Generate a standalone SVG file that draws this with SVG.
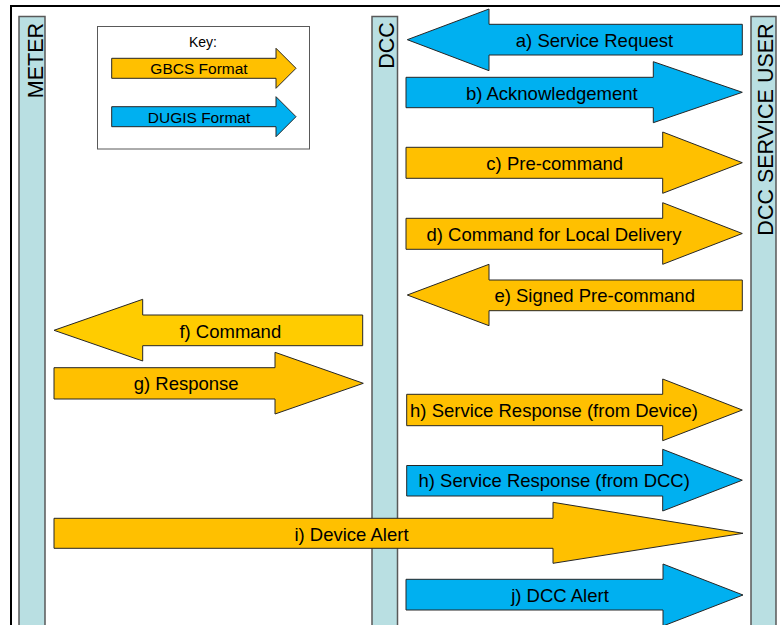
<svg xmlns="http://www.w3.org/2000/svg" width="780" height="625" viewBox="0 0 780 625">
<style>
.bar{fill:#B9DFE2;stroke:#595959;stroke-width:1.5}
.lane{font-family:"Liberation Sans",Arial,sans-serif;font-size:21.5px;fill:#000;text-anchor:middle}
.gb{fill:#FFC000;stroke:#262626;stroke-width:1}
.gb2{fill:#FFCC00;stroke:#262626;stroke-width:1}
.du{fill:#00B0F0;stroke:#262626;stroke-width:1}
.lbl{font-family:"Liberation Sans",Arial,sans-serif;font-size:18.5px;fill:#000;text-anchor:middle}
.key{font-family:"Liberation Sans",Arial,sans-serif;font-size:15.5px;fill:#000;text-anchor:middle}
</style>
<rect width="780" height="625" fill="#fff"/>
<path d="M11,640 V6 H790" fill="none" stroke="#000" stroke-width="2"/>

<g id="meter">
<rect class="bar" x="19" y="16.5" width="26" height="620"/>
<text class="lane" transform="translate(43,60.5) rotate(-90)">METER</text>
</g>
<g id="dcc">
<rect class="bar" x="372" y="16.5" width="25.5" height="620"/>
<text class="lane" transform="translate(393.5,45.5) rotate(-90)">DCC</text>
</g>
<g id="service-user">
<rect class="bar" x="751" y="16.5" width="25" height="620"/>
<text class="lane" transform="translate(772.5,129.5) rotate(-90)">DCC SERVICE USER</text>
</g>

<g id="key">
<rect x="97.5" y="26.5" width="212" height="122.5" fill="#fff" stroke="#595959" stroke-width="1"/>
<text class="key" x="203" y="47" style="font-size:14px">Key:</text>
<polygon class="gb" points="111.7,58.3 276,58.3 276,48.3 296,68.3 276,88.3 276,78.3 111.7,78.3"/>
<text class="key" x="199" y="74.3">GBCS Format</text>
<polygon class="du" points="111.7,106.7 276,106.7 276,96.7 296,116.7 276,136.7 276,126.7 111.7,126.7"/>
<text class="key" x="199" y="122.6">DUGIS Format</text>
</g>

<g id="connectors">
<g id="a">
<polygon class="du" points="742.3,24.3 489,24.3 489,9 407.3,39.7 489,70.7 489,55 742.3,55"/>
<text class="lbl" x="594.5" y="46.5">a) Service Request</text>
</g>
<g id="b">
<polygon class="du" points="406,77.3 653.3,77.3 653.3,61.7 742.3,92.3 653.3,122.7 653.3,107.7 406,107.7"/>
<text class="lbl" x="551.8" y="99.8">b) Acknowledgement</text>
</g>
<g id="c">
<polygon class="gb" points="406,147.3 662.7,147.3 662.7,132 742.3,162.7 662.7,193.3 662.7,178.3 406,178.3"/>
<text class="lbl" x="554.7" y="169.8">c) Pre-command</text>
</g>
<g id="d">
<polygon class="gb" points="406,218.3 662.7,218.3 662.7,202.7 742.3,233.5 662.7,264.3 662.7,249.3 406,249.3"/>
<text class="lbl" x="554" y="240.5">d) Command for Local Delivery</text>
</g>
<g id="e">
<polygon class="gb" points="742.3,280 489,280 489,264.3 407.3,295 489,325.7 489,310.7 742.3,310.7"/>
<text class="lbl" x="594.7" y="302.2">e) Signed Pre-command</text>
</g>
<g id="f">
<polygon class="gb2" points="362.7,315 142.7,315 142.7,299.3 54,330.3 142.7,361 142.7,345.7 362.7,345.7"/>
<text class="lbl" x="230.3" y="338.2">f) Command</text>
</g>
<g id="g">
<polygon class="gb" points="54,367.7 275,367.7 275,352.3 363.3,383.3 275,414 275,399 54,399"/>
<text class="lbl" x="186.2" y="389.8">g) Response</text>
</g>
<g id="h1">
<polygon class="gb" points="406.7,394.3 662.7,394.3 662.7,379 742.3,410 662.7,440.7 662.7,425.7 406.7,425.7"/>
<text class="lbl" x="554" y="417.2">h) Service Response (from Device)</text>
</g>
<g id="h2">
<polygon class="du" points="406.7,465.5 662.7,465.5 662.7,449.3 742.3,480.2 662.7,511 662.7,496 406.7,496"/>
<text class="lbl" x="554.2" y="487.2">h) Service Response (from DCC)</text>
</g>
<g id="i">
<polygon class="gb" points="54,518.3 553,518.3 553,502.3 743,533.3 553,563.3 553,548.3 54,548.3"/>
<text class="lbl" x="351.5" y="540.5">i) Device Alert</text>
</g>
<g id="j">
<polygon class="du" points="406,579.3 663,579.3 663,564 743,595 663,626 663,610 406,610"/>
<text class="lbl" x="560" y="602.2">j) DCC Alert</text>
</g>
</g>
</svg>
